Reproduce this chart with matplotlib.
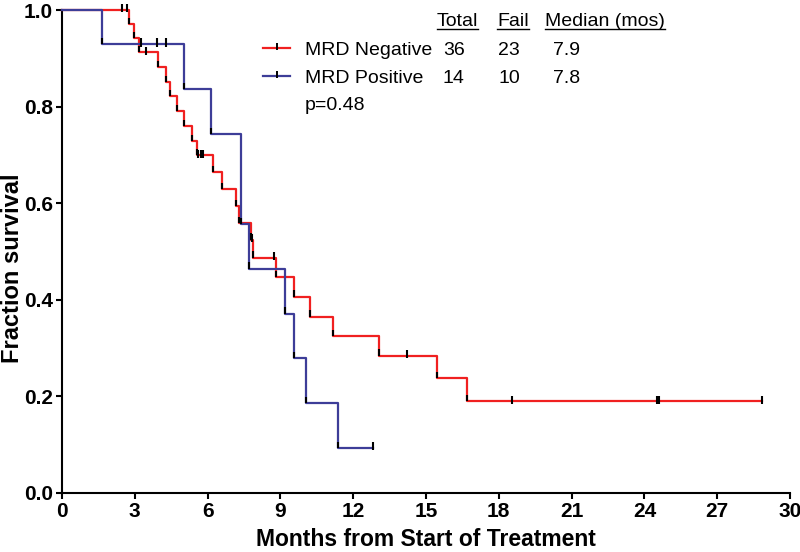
import matplotlib
matplotlib.use('Agg')
import matplotlib.pyplot as plt
import numpy as np
from matplotlib.lines import Line2D

# MRD negative: step times (months) and survival after each step
neg_times = [0, 2.77, 2.98, 3.19, 3.97, 4.27, 4.45, 4.73, 5.04, 5.34, 5.55,
             6.23, 6.58, 7.17, 7.31, 7.80, 7.88, 8.82, 9.56, 10.22, 11.17,
             13.07, 15.46, 16.70]
neg_surv = [1.000, 0.971, 0.941, 0.912, 0.881, 0.851, 0.821, 0.790, 0.760,
            0.729, 0.699, 0.664, 0.629, 0.594, 0.559, 0.524, 0.487, 0.446,
            0.406, 0.365, 0.325, 0.284, 0.237, 0.189]
neg_censored = [2.47, 2.68, 3.45, 5.62, 5.71, 5.82, 7.84, 8.75, 14.20,
                18.56, 24.53, 24.60, 28.84]

# MRD positive
pos_times = [0, 1.64, 5.04, 6.16, 7.36, 7.72, 9.19, 9.56, 10.04, 11.36]
pos_surv = [1.000, 0.929, 0.836, 0.743, 0.557, 0.464, 0.371, 0.279, 0.186, 0.093]
pos_censored = [3.25, 3.90, 4.30, 12.83]

groups = ['MRD Negative', 'MRD Positive']
totals = ['36', '14']
fails = ['23', '10']
medians = ['7.9', '7.8']
p_text = 'p=0.48'
x_ticks = [0, 3, 6, 9, 12, 15, 18, 21, 24, 27, 30]
y_ticks = [0.0, 0.2, 0.4, 0.6, 0.8, 1.0]

RED = '#f02020'
BLUE = '#3d3d98'
W, H = 800, 552
ARIAL = ['Liberation Sans', 'DejaVu Sans']


def level_at(times, surv, t):
    i = np.searchsorted(times, t, side='right') - 1
    return surv[i]


def draw_km(ax, times, surv, censored, color):
    end = max(censored[-1], times[-1])
    ax.step(list(times) + [end], list(surv) + [surv[-1]], where='post',
            color=color, lw=1.6, zorder=3, clip_on=False)
    # black marks on each drop
    for t, s in zip(times[1:], surv[1:]):
        ax.plot([t, t], [s, s + 0.013], color='black', lw=1.5, zorder=4,
                solid_capstyle='butt', clip_on=False)
    # censored ticks
    for t in censored:
        s = level_at(times, surv, t)
        ax.plot([t, t], [s - 0.005, s + 0.012], color='black', lw=1.5,
                zorder=4, solid_capstyle='butt', clip_on=False)


def fx(px):
    return px / W


def fy(py):
    return 1 - py / H


fig = plt.figure(figsize=(8, 5.52), dpi=100)
ax = fig.add_axes([fx(62), fy(492.7), fx(790) - fx(62), fy(10) - fy(492.7)])

draw_km(ax, neg_times, neg_surv, neg_censored, RED)
draw_km(ax, pos_times, pos_surv, pos_censored, BLUE)

ax.set_xlim(0, 30)
ax.set_ylim(0, 1)
ax.set_xticks(x_ticks)
ax.set_xticklabels([str(v) for v in x_ticks])
ax.set_yticks(y_ticks)
ax.set_yticklabels(['%.1f' % v for v in y_ticks])
for lab in ax.get_xticklabels() + ax.get_yticklabels():
    lab.set_family(ARIAL)
    lab.set_fontweight('bold')
    lab.set_fontsize(15)
ax.tick_params(direction='out', length=4.5, width=1.5, pad=2)
for side in ['top', 'right']:
    ax.spines[side].set_visible(False)
for side in ['left', 'bottom']:
    ax.spines[side].set_linewidth(1.5)

fig.text(fx(13), fy(268), 'Fraction survival', rotation=90, ha='center',
         va='center', fontsize=17, fontweight='bold', family=ARIAL)
fig.text(fx(426), fy(539), 'Months from Start of Treatment', ha='center',
         va='center', fontsize=16.5, fontweight='bold', family=ARIAL)

# legend table
hdr_font = dict(fontsize=14, family=ARIAL, va='baseline', ha='left')
headers = [('Total', 437), ('Fail', 497), ('Median (mos)', 545)]
hdr_texts = [fig.text(fx(x), fy(26), s, **hdr_font) for s, x in headers]

rows_y = [55, 83]
colors = [RED, BLUE]
for i in range(2):
    y = rows_y[i]
    fig.text(fx(305), fy(y), groups[i], **hdr_font)
    fig.text(fx(443), fy(y), totals[i], **hdr_font)
    fig.text(fx(498), fy(y), fails[i], **hdr_font)
    fig.text(fx(553), fy(y), medians[i], **hdr_font)
    ly = y - 7
    fig.add_artist(Line2D([fx(263), fx(290)], [fy(ly), fy(ly)], color=colors[i],
                          lw=1.6))
    fig.add_artist(Line2D([fx(276.5), fx(276.5)], [fy(ly - 5), fy(ly + 2)],
                          color='black', lw=1.4, solid_capstyle='butt'))
fig.text(fx(305), fy(110), p_text, **hdr_font)

fig.canvas.draw()
for t in hdr_texts:
    bb = t.get_window_extent()
    fig.add_artist(Line2D([bb.x0 / W, bb.x1 / W], [fy(28.5), fy(28.5)],
                          color='black', lw=1.0))

fig.savefig('out.png', dpi=100)
